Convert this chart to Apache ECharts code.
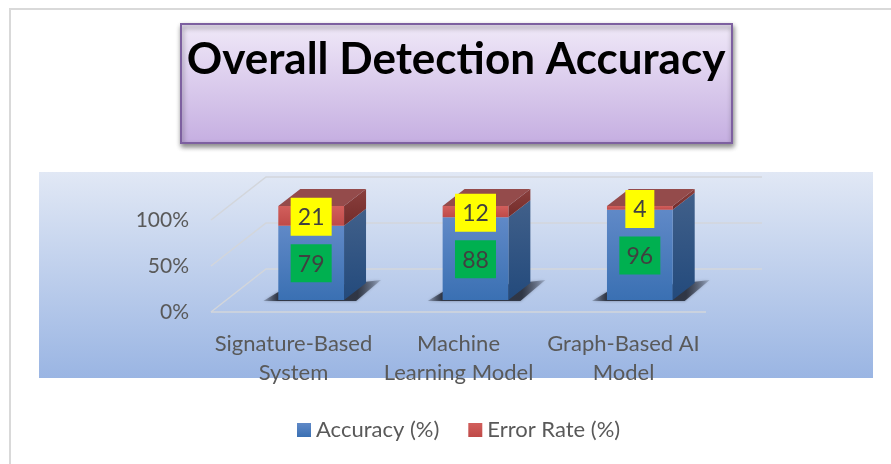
<!DOCTYPE html>
<html>
<head>
<meta charset="utf-8">
<style>html,body{margin:0;padding:0;background:#fff}#chart{width:891px;height:464px}</style>
<script src="https://cdn.jsdelivr.net/npm/echarts@6/dist/echarts.min.js"></script>
</head>
<body>
<div id="chart"></div>
<script>
const categories = ['Signature-Based\nSystem', 'Machine\nLearning Model', 'Graph-Based AI\nModel'];
const accuracy = [79, 88, 96];
const errorRate = [21, 12, 4];
const yTicks = [0, 50, 100];

const FONT = 'Lato, "Open Sans", sans-serif';
const DX = 22, DY = -17;
const vgrad = (a, b) => ({type: 'linear', x: 0, y: 0, x2: 0, y2: 1, colorStops: [{offset: 0, color: a}, {offset: 1, color: b}]});
const poly = (points, fill, extra) => ({type: 'polygon', shape: {points}, style: Object.assign({fill}, extra || {})});
const shadowFill = {type: 'linear', x: 0, y: 0, x2: 1, y2: 0, colorStops: [
  {offset: 0, color: 'rgba(50,56,70,0.25)'}, {offset: 0.12, color: 'rgba(40,46,60,0.9)'},
  {offset: 0.8, color: 'rgba(40,46,60,0.9)'}, {offset: 1, color: 'rgba(50,56,70,0.2)'}]};

function barItem(kind) {
  return function (params, api) {
    const i = api.value(0), from = api.value(1), to = api.value(2);
    const c = api.coord([i, from]), t = api.coord([i, to]);
    const w = api.size([1, 0])[0] * 0.4;
    const x0 = c[0] - w / 2, x1 = c[0] + w / 2, yb = c[1], yt = t[1];
    const kids = [];
    if (kind === 'acc') {
      kids.push(poly([[x0 - 15, yb + 1], [x0, yb - 8], [x1 + 37, yb - 20], [x1 + 12, yb + 1]],
        shadowFill, {shadowBlur: 3, shadowColor: 'rgba(40,46,60,0.5)'}));
      kids.push(poly([[x1, yb], [x1 + DX, yb + DY], [x1 + DX, yt + DY], [x1, yt]], vgrad('#41608a', '#234a7c')));
      kids.push(poly([[x0, yb], [x1, yb], [x1, yt], [x0, yt]], vgrad('#6089c7', '#3a70b3')));
    } else {
      kids.push(poly([[x1, yb], [x1 + DX, yb + DY], [x1 + DX, yt + DY], [x1, yt]], vgrad('#8a3f3d', '#732c2a')));
      kids.push(poly([[x0, yb], [x1, yb], [x1, yt], [x0, yt]], vgrad('#d25f5c', '#bf4a48')));
      kids.push(poly([[x0, yt], [x0 + DX, yt + DY], [x1 + DX, yt + DY], [x1, yt]], '#944b4b'));
    }
    const v = to - from;
    const digits = String(v).length;
    const cy = (yb + yt) / 2 + (kind === 'acc' ? 0.5 : 1);
    const bw = digits === 1 ? 29 : 41, bh = 38;
    kids.push({type: 'rect', shape: {x: c[0] - bw / 2, y: cy - bh / 2, width: bw, height: bh},
      style: {fill: kind === 'acc' ? '#00b050' : '#ffff00'}});
    kids.push({type: 'text', style: {x: c[0], y: cy + 1, text: String(v), fill: '#404040',
      font: '23px ' + FONT, align: 'center', verticalAlign: 'middle'}});
    return {type: 'group', children: kids};
  };
}

function wallItem(params, api) {
  const p = api.coord([0, api.value(0)]);
  const left = params.coordSys.x, right = left + params.coordSys.width;
  const y = p[1];
  return {type: 'polyline', shape: {points: [[left, y], [left + 55, y - 43], [right + 56, y - 43]]},
    style: {stroke: '#d3d6db', lineWidth: 1.5, fill: null}};
}

const chart = echarts.init(document.getElementById('chart'), null, {renderer: 'canvas'});
chart.setOption({
  animation: false,
  backgroundColor: '#ffffff',
  title: {
    text: 'Overall Detection Accuracy', left: 451, top: 33, textAlign: 'center',
    textStyle: {fontFamily: FONT, fontWeight: 'bold', fontSize: 44, color: '#000000'}
  },
  legend: {
    data: ['Accuracy (%)', 'Error Rate (%)'], left: 292, top: 414, itemWidth: 14, itemHeight: 14, itemGap: 29,
    textStyle: {fontFamily: FONT, fontSize: 22, color: '#595959'},
    icon: 'rect'
  },
  graphic: [
    {type: 'polyline', silent: true, z: -10, shape: {points: [[10, 464], [10, 9], [891, 9]]}, style: {stroke: '#d9d9d9', lineWidth: 2, fill: null}},
    {type: 'rect', silent: true, z: -9, shape: {x: 181, y: 24, width: 551, height: 119},
      style: {fill: vgrad('#f0e9f8', '#c5aee1'), stroke: '#7d60a0', lineWidth: 2, shadowBlur: 5, shadowOffsetX: 1, shadowOffsetY: 3, shadowColor: 'rgba(0,0,0,0.45)'}},
    {type: 'rect', silent: true, z: -9, shape: {x: 39, y: 172, width: 834, height: 206}, style: {fill: vgrad('#e1e8f5', '#9ab5e3')}}
  ],
  grid: [
    {left: 211, width: 495, top: 220, height: 92},
    {left: 229, width: 493, top: 206, height: 94}
  ],
  xAxis: [
    {type: 'category', gridIndex: 0, data: categories, axisTick: {show: false},
      axisLine: {show: false},
      axisLabel: {fontFamily: FONT, fontSize: 22, color: '#595959', lineHeight: 29, margin: 17, interval: 0}},
    {type: 'category', gridIndex: 1, data: categories, show: false}
  ],
  yAxis: [
    {type: 'value', gridIndex: 0, min: 0, max: 100, interval: 50, splitLine: {show: false}, axisLine: {show: false}, axisTick: {show: false},
      axisLabel: {fontFamily: FONT, fontSize: 21, color: '#595959', margin: 22, padding: [8, 0, 0, 0], formatter: '{value}%'}},
    {type: 'value', gridIndex: 1, min: 0, max: 100, show: false, splitLine: {show: false}}
  ],
  series: [
    {name: 'walls', type: 'custom', xAxisIndex: 0, yAxisIndex: 0, silent: true, clip: false, z: 1,
      renderItem: wallItem, data: yTicks.map(v => [v]), encode: {y: 0}},
    {name: 'floor', type: 'line', xAxisIndex: 0, yAxisIndex: 0, silent: true, z: 1, symbol: 'none', data: [],
      markLine: {silent: true, symbol: 'none', label: {show: false}, lineStyle: {color: '#d3d6db', width: 1.5, type: 'solid'}, data: [{yAxis: 0}]}},
    {name: 'Accuracy (%)', type: 'custom', xAxisIndex: 1, yAxisIndex: 1, clip: false, z: 3,
      itemStyle: {color: vgrad('#6089c7', '#3a70b3')},
      renderItem: barItem('acc'), encode: {x: 0, y: [1, 2]},
      data: accuracy.map((v, i) => [i, 0, v])},
    {name: 'Error Rate (%)', type: 'custom', xAxisIndex: 1, yAxisIndex: 1, clip: false, z: 4,
      itemStyle: {color: vgrad('#d25f5c', '#bf4a48')},
      renderItem: barItem('err'), encode: {x: 0, y: [1, 2]},
      data: errorRate.map((v, i) => [i, accuracy[i], accuracy[i] + v])}
  ]
});
</script>
</body>
</html>
